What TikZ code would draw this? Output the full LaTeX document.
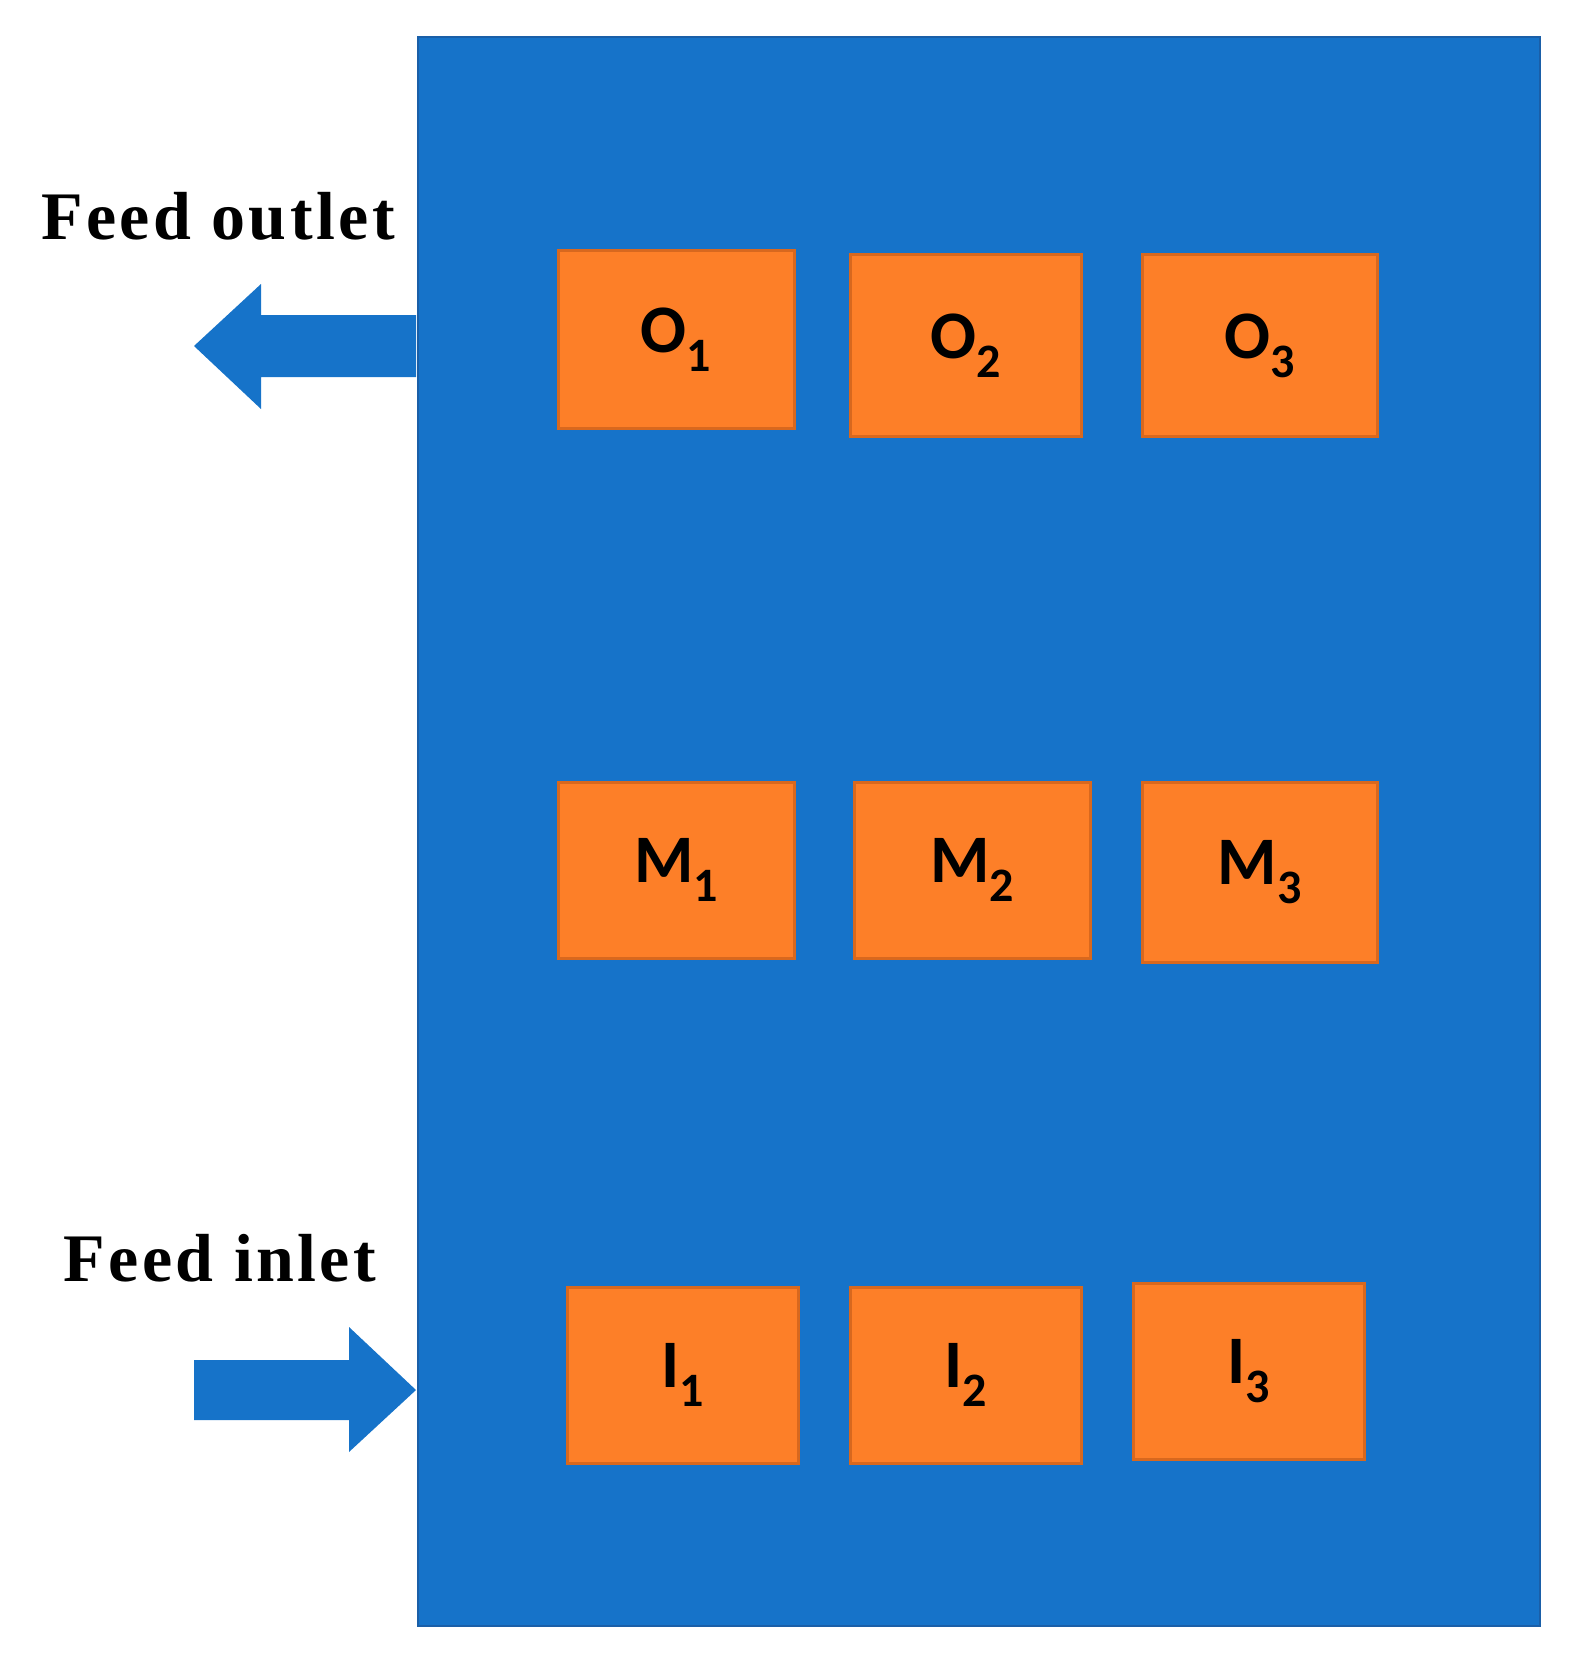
\documentclass[tikz,border=0pt]{standalone}
\usepackage{fontspec}
\setmainfont{Liberation Serif}
\newfontfamily\boxfont{Carlito}
\newfontfamily\lblfont[LetterSpace=5]{Liberation Serif}
\definecolor{blu}{HTML}{1673C9}
\definecolor{blb}{HTML}{1A5FA8}
\definecolor{org}{HTML}{FD7F28}
\definecolor{orb}{HTML}{D8681E}
\newcommand\sbs[1]{\raisebox{-0.28em}{\fontsize{24}{26}\selectfont #1}}
\begin{document}
\begin{tikzpicture}[x=0.5pt,y=-0.5pt,
  bx/.style={draw=orb,line width=1.5pt,fill=org,font=\boxfont\bfseries\fontsize{34}{38}\selectfont},
  lbl/.style={font=\lblfont\bfseries\fontsize{34}{38}\selectfont}]
\useasboundingbox (0,0) rectangle (1574,1669);
\draw[fill=blu,draw=blb,line width=1.2pt] (418,37) rectangle (1540,1626);
\newcommand\mybox[6]{\node[bx,minimum width={(#3-#2)*0.5pt},minimum height={(#5-#4)*0.5pt}] (#1) at ({(#2+#3)/2},{(#4+#5)/2}) {#6};}
\mybox{o1}{558}{794}{251}{428}{O\sbs{1}}
\mybox{o2}{850}{1081}{255}{436}{O\sbs{2}}
\mybox{o3}{1142}{1377}{255}{436}{O\sbs{3}}
\mybox{m1}{558}{794}{782}{958}{M\sbs{1}}
\mybox{m2}{854}{1090}{782}{958}{M\sbs{2}}
\mybox{m3}{1142}{1377}{782}{962}{M\sbs{3}}
\mybox{i1}{567}{798}{1287}{1463}{I\sbs{1}}
\mybox{i2}{850}{1081}{1287}{1463}{I\sbs{2}}
\mybox{i3}{1133}{1364}{1283}{1459}{I\sbs{3}}
\fill[blu] (416,315) -- (261,315) -- (261,284) -- (194,346) -- (261,409) -- (261,377) -- (416,377) -- cycle;
\fill[blu] (194,1360) -- (349,1360) -- (349,1327) -- (416,1390) -- (349,1452) -- (349,1420) -- (194,1420) -- cycle;
\node[lbl] (out) at (218,216) {Feed outlet};
\node[lbl] (in) at (220,1258) {Feed inlet};
\end{tikzpicture}
\end{document}
